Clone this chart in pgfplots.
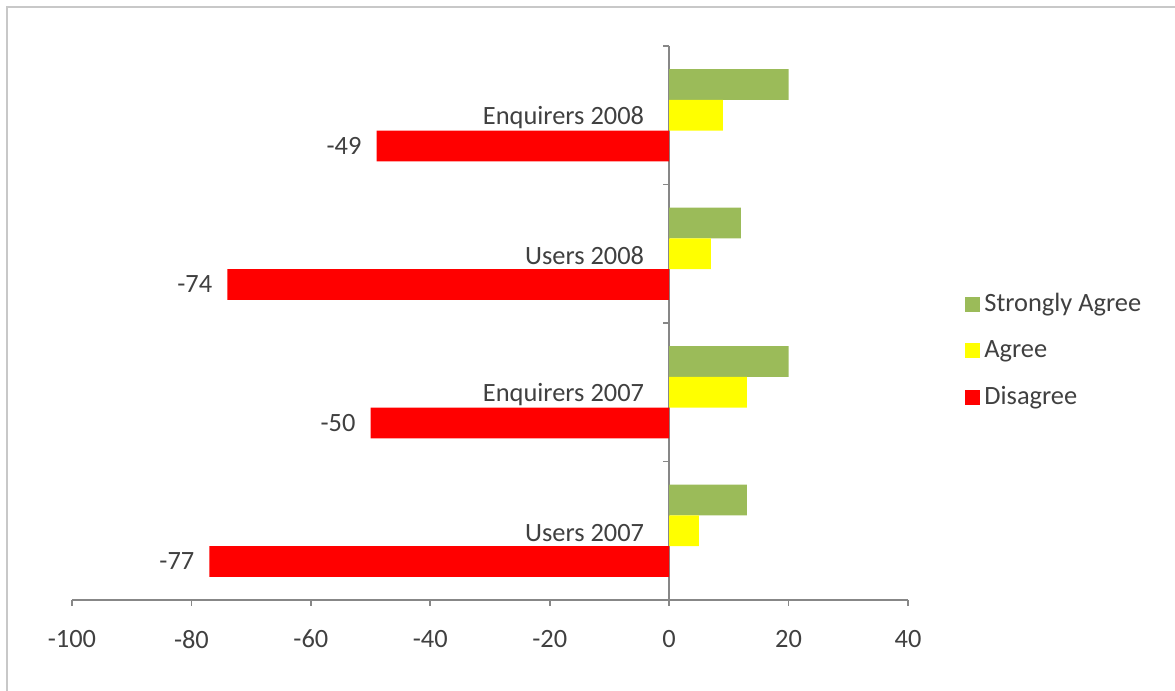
\documentclass[border=0pt]{standalone}
\usepackage{pgfplots}
\pgfplotsset{compat=1.18}
\usepackage{fontspec}
\setmainfont{Carlito}

\definecolor{saGreen}{HTML}{9BBB59}
\definecolor{agYellow}{HTML}{FFFF00}
\definecolor{dsRed}{HTML}{FF0000}
\definecolor{axisGray}{HTML}{878787}
\definecolor{txtGray}{HTML}{404040}
\definecolor{frameGray}{HTML}{C8C8C8}

\newcommand{\chartfont}{\fontsize{13.2}{15.8}\selectfont}

\begin{document}
\begin{tikzpicture}
\useasboundingbox (-36pt,-45.5pt) rectangle (551.5pt,300pt);
\draw[frameGray, line width=1pt] (-32.5pt,-45.5pt) -- (-32.5pt,296.5pt) -- (551.5pt,296.5pt);
\begin{axis}[
  at={(0pt,0pt)}, anchor=south west,
  scale only axis, width=418pt, height=277pt,
  xbar, bar width=0.222,
  xmin=-100, xmax=40, ymin=-0.5, ymax=3.5,
  axis x line*=bottom, axis y line*=middle,
  axis line style={draw=axisGray, line width=0.8pt, -},
  tick style={draw=axisGray, line width=0.8pt},
  tick align=outside, major tick length=3pt, minor tick length=3pt,
  major y tick style={draw=none},
  xtick={-100,-80,...,40},
  ytick={0,1,2,3},
  yticklabels={Users 2007, Enquirers 2007, Users 2008, Enquirers 2008},
  minor ytick={-0.5,0.5,1.5,2.5,3.5},
  /pgf/number format/assume math mode=true,
  tick label style={font=\chartfont, text=txtGray},
  xticklabel style={yshift=-8.5pt},
  yticklabel style={xshift=-6pt, yshift=-1pt},
  legend image code/.code={\fill[#1, draw=none] (0pt,-3.75pt) rectangle (7.5pt,3.75pt);},
  legend cell align=left,
  legend style={at={(1,0.45)}, anchor=west, xshift=28.5pt, draw=none, fill=none,
    font=\chartfont, text=txtGray, row sep=9pt, inner sep=0pt},
  clip=false,
]
\addplot[fill=saGreen, draw=none, bar shift=0.222] coordinates
  {(13,0) (20,1) (12,2) (20,3)};
\addlegendentry{Strongly Agree}
\addplot[fill=agYellow, draw=none, bar shift=0] coordinates
  {(5,0) (13,1) (7,2) (9,3)};
\addlegendentry{Agree}
\addplot[fill=dsRed, draw=none, bar shift=-0.222,
  nodes near coords,
  nodes near coords style={anchor=east, xshift=-4pt, font=\chartfont, text=txtGray,
    /pgf/number format/assume math mode=true}] coordinates
  {(-77,0) (-50,1) (-74,2) (-49,3)};
\addlegendentry{Disagree}
\end{axis}
\end{tikzpicture}
\end{document}
